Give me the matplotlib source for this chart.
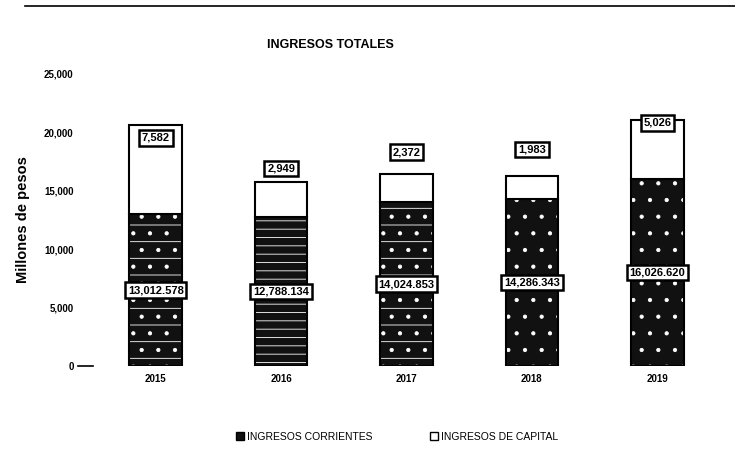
import numpy as np
import matplotlib.pyplot as plt
from matplotlib.patches import Patch
from matplotlib.lines import Line2D

plt.rcParams['font.family'] = ['Liberation Sans Narrow', 'Liberation Sans', 'DejaVu Sans']
plt.rcParams['hatch.linewidth'] = 0.6

# ── Datos (millones de pesos) ──────────────────────────────────────────────
ANIOS = ['2015', '2016', '2017', '2018', '2019']
CORRIENTES = [13012.578, 12788.134, 14024.853, 14286.343, 16026.620]
CAPITAL = [7582, 2949, 2372, 1983, 5026]
ETIQ_CORRIENTES = ['13,012.578', '12,788.134', '14,024.853', '14,286.343', '16,026.620']
ETIQ_CAPITAL = ['7,582', '2,949', '2,372', '1,983', '5,026']

# desplazamiento vertical (pt) de la etiqueta de capital respecto al tope
OFFSET_CAPITAL = [-9, 10, 16, 19, -2]
# trama de cada barra de corrientes
TRAMAS = ['-.', '--', '-.', '.', '.']

ANCHO = 0.42

fig = plt.figure(figsize=(7.35, 4.55), dpi=100)
ax = fig.add_axes([93 / 735, 89 / 455, 627 / 735, 292 / 455])

x = np.arange(len(ANIOS))
total = np.array(CORRIENTES) + np.array(CAPITAL)

# ingresos corrientes: relleno oscuro con trama clara
ax.bar(x, CORRIENTES, width=ANCHO, color='#111111', edgecolor='black', lw=1.2, zorder=2)
tramas = ax.bar(x, CORRIENTES, width=ANCHO, color='none', edgecolor='white', lw=0, zorder=3)
for b, h in zip(tramas, TRAMAS):
    b.set_hatch(h)
ax.bar(x, CORRIENTES, width=ANCHO, color='none', edgecolor='black', lw=1.5, zorder=4)

# ingresos de capital: blanco con borde negro
ax.bar(x, CAPITAL, width=ANCHO, bottom=CORRIENTES, color='white',
       edgecolor='black', lw=1.5, zorder=4)

caja = dict(boxstyle='square,pad=0.25', fc='white', ec='black', lw=1.8)
for i in range(len(ANIOS)):
    ax.text(x[i], CORRIENTES[i] / 2, ETIQ_CORRIENTES[i], ha='center', va='center',
            fontsize=8, fontweight='bold', bbox=caja, zorder=6)
    ax.annotate(ETIQ_CAPITAL[i], (x[i], total[i]), xytext=(0, OFFSET_CAPITAL[i]),
                textcoords='offset points', ha='center', va='center',
                fontsize=8, fontweight='bold', bbox=caja, zorder=6)

ax.set_xlim(-0.5, len(ANIOS) - 0.5)
ax.set_ylim(0, 25000)
ax.set_yticks(np.arange(0, 25001, 5000))
ax.set_yticklabels(['0', '5,000', '10,000', '15,000', '20,000', '25,000'],
                   fontsize=7, fontweight='bold')
ax.set_xticks(x)
ax.set_xticklabels(ANIOS, fontsize=7, fontweight='bold')
ax.tick_params(axis='y', length=0, pad=14)
ax.tick_params(axis='x', length=0, pad=6)
for s in ax.spines.values():
    s.set_visible(False)
ax.plot([-0.62, -0.5], [0, 0], color='black', lw=1.2, clip_on=False)

ax.set_ylabel('Millones de pesos', fontsize=10.5, fontweight='bold', labelpad=10)
fig.text(330 / 735, 1 - 45 / 455, 'INGRESOS TOTALES', ha='center', va='center',
         fontsize=9, fontweight='bold')

# línea superior de la página
fig.add_artist(Line2D([25 / 735, 1.0], [1 - 6 / 455, 1 - 6 / 455],
                      color='black', lw=1.2))

handles = [Patch(facecolor='#111111', edgecolor='black', hatch='-.'),
           Patch(facecolor='white', edgecolor='black')]
fig.legend(handles, ['INGRESOS CORRIENTES', 'INGRESOS DE CAPITAL'],
           loc='center', bbox_to_anchor=(397 / 735, 1 - 437 / 455), ncol=2,
           frameon=False, fontsize=7.5, handlelength=0.8, handleheight=0.8,
           handletextpad=0.3, columnspacing=5.5)

fig.savefig('out.png', dpi=100)
